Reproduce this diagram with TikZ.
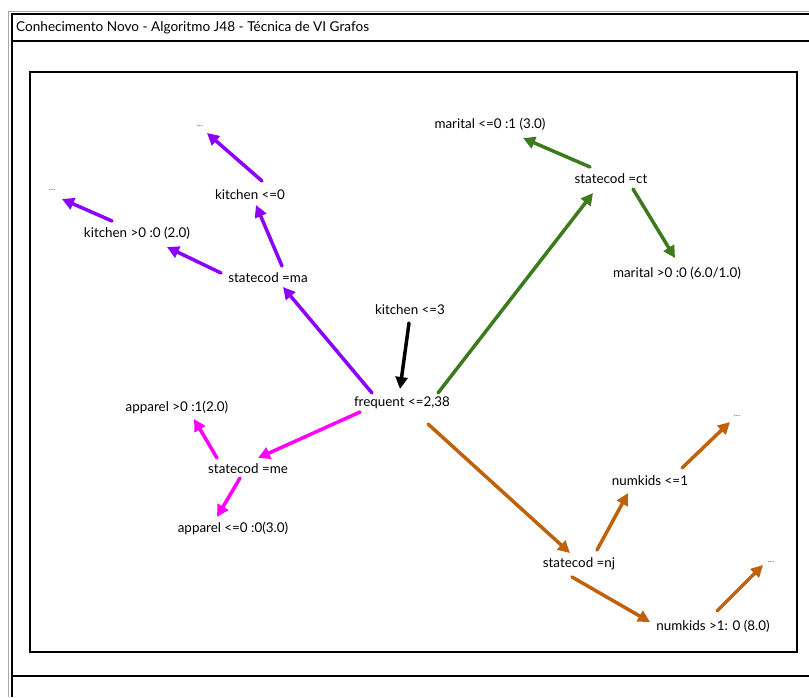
\documentclass[tikz,border=0pt]{standalone}
\usepackage{fontspec}
\setmainfont{Lato}
\usetikzlibrary{arrows.meta,calc}
\definecolor{purpleedge}{RGB}{140,0,255}
\definecolor{magentaedge}{RGB}{255,0,255}
\definecolor{greenedge}{RGB}{60,122,28}
\definecolor{orangeedge}{RGB}{192,98,10}
\begin{document}
\begin{tikzpicture}[x=1pt,y=-1pt,
  lbl/.style={font=\fontsize{13.4}{15}\selectfont, inner sep=0pt},
  more/.style={font=\fontsize{9}{10}\selectfont, text=black!60, inner sep=0pt},
  edge/.style={line width=3.5pt, line cap=round, -{Triangle[length=12pt,width=12pt]}}]
\useasboundingbox (0,0) rectangle (809,697);
% window frame
\draw[black!35, line width=1pt] (8.5,697) -- (8.5,11) -- (809,11);
\draw[line width=2pt] (12,697) -- (12,14) -- (809,14);
\draw[line width=2pt] (12,41) -- (809,41);
\node[lbl, anchor=west, font=\fontsize{13.6}{15}\selectfont] (title) at (16,28) {Conhecimento Novo - Algoritmo J48 - Técnica de VI Grafos};
\draw[line width=2.5pt] (30,72) rectangle (797,652);
\draw[line width=2pt] (12,676) -- (809,676);

% tree nodes
\node[lbl] (fr)  at (402,403) {frequent <=2,38};
\node[lbl] (k3)  at (410,310) {kitchen <=3};
\node[lbl] (ma)  at (268,278) {statecod =ma};
\node[lbl] (k0)  at (250,195) {kitchen <=0};
\node[lbl] (kgt) at (137,233) {kitchen >0 :0 (2.0)};
\node[more] (d1) at (200,126) {...};
\node[more] (d2) at (52,190) {...};
\node[lbl] (ct)  at (611,179) {statecod =ct};
\node[lbl] (m0)  at (490,124) {marital <=0 :1 (3.0)};
\node[lbl] (m1)  at (677,273) {marital >0 :0 (6.0/1.0)};
\node[lbl] (me)  at (248,469) {statecod =me};
\node[lbl] (ap1) at (177,407) {apparel >0 :1(2.0)};
\node[lbl] (ap0) at (233,528) {apparel <=0 :0(3.0)};
\node[lbl] (nj)  at (579,564) {statecod =nj};
\node[lbl] (nk1) at (650,481) {numkids <=1};
\node[lbl] (nk2) at (713,626) {numkids >1: 0 (8.0)};
\node[more] (d3) at (737,416) {...};
\node[more] (d4) at (771,562) {...};

% connectors
\draw[edge, black] ($(k3)+(-1,13)$) -- ($(fr)+(-2,-14)$);
\draw[edge, purpleedge] ($(fr)+(-30,-10)$) -- ($(ma)+(15,9)$);
\draw[edge, purpleedge] ($(ma)+(14,-12)$) -- ($(k0)+(6,10)$);
\draw[edge, purpleedge] ($(k0)+(12,-14)$) -- ($(d1)+(7,7)$);
\draw[edge, purpleedge] ($(ma)+(-47,-5)$) -- ($(kgt)+(30,14)$);
\draw[edge, purpleedge] ($(kgt)+(-25,-12)$) -- ($(d2)+(10,9)$);
\draw[edge, greenedge] ($(fr)+(36,-10)$) -- ($(ct)+(-18,14)$);
\draw[edge, greenedge] ($(ct)+(-21,-12)$) -- ($(m0)+(33,14)$);
\draw[edge, greenedge] ($(ct)+(22,10)$) -- ($(m1)+(-2,-15)$);
\draw[edge, magentaedge] ($(fr)+(-42,9)$) -- ($(me)+(10,-11)$);
\draw[edge, magentaedge] ($(me)+(-31,-11)$) -- ($(ap1)+(17,12)$);
\draw[edge, magentaedge] ($(me)+(-8,9)$) -- ($(ap0)+(-16,-11)$);
\draw[edge, orangeedge] ($(fr)+(26,21)$) -- ($(nj)+(-9,-11)$);
\draw[edge, orangeedge] ($(nj)+(18,-14)$) -- ($(nk1)+(-22,12)$);
\draw[edge, orangeedge] ($(nk1)+(32,-13)$) -- ($(d3)+(-7,6)$);
\draw[edge, orangeedge] ($(nj)+(-7,13)$) -- ($(nk2)+(-63,-4)$);
\draw[edge, orangeedge] ($(nk2)+(4,-15)$) -- ($(d4)+(-8,3)$);
\end{tikzpicture}
\end{document}
